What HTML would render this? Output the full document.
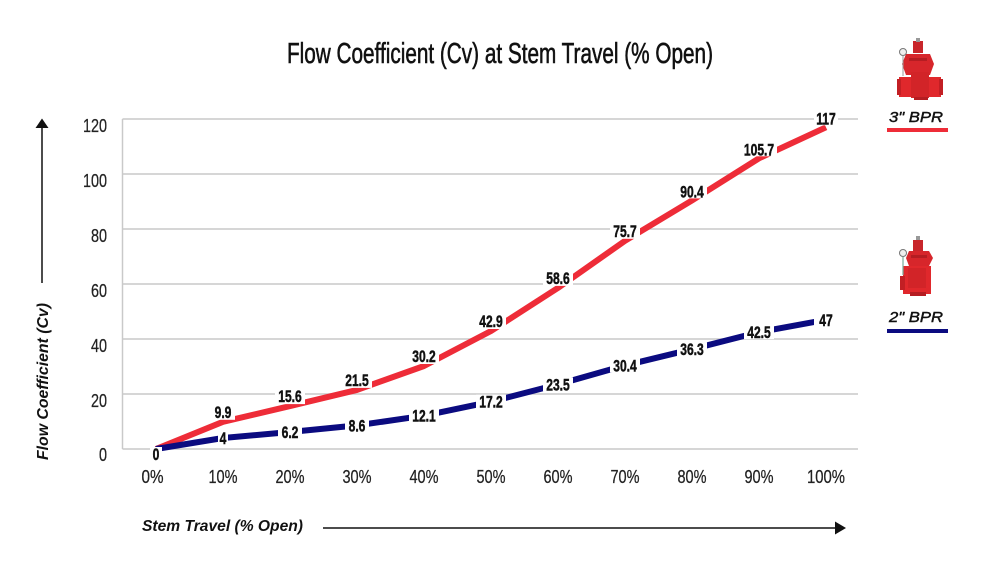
<!DOCTYPE html>
<html>
<head>
<meta charset="utf-8">
<style>
  html,body{margin:0;padding:0;background:#fff;}
  svg{display:block;}
  .ax{font-family:"Liberation Sans",sans-serif;font-size:18px;fill:#222;stroke:#222;stroke-width:0.25px;}
  .dl{font-family:"Liberation Sans",sans-serif;font-size:17px;font-weight:bold;fill:#111;stroke:#111;stroke-width:0.5px;}
  .it{font-family:"Liberation Sans",sans-serif;font-style:italic;font-weight:bold;fill:#111;}
  .lg{font-family:"Liberation Sans",sans-serif;font-style:italic;font-weight:normal;fill:#111;stroke:#111;stroke-width:0.45px;}
</style>
</head>
<body>
<svg width="1000" height="562" viewBox="0 0 1000 562" xmlns="http://www.w3.org/2000/svg">
  <rect width="1000" height="562" fill="#fff"/>

  <!-- Title -->
  <text x="287" y="63" font-family="Liberation Sans, sans-serif" font-size="29" fill="#111" stroke="#111" stroke-width="0.6" textLength="426" lengthAdjust="spacingAndGlyphs">Flow Coefficient (Cv) at Stem Travel (% Open)</text>

  <!-- gridlines -->
  <g stroke="#c9c9c9" stroke-width="1.5">
    <line x1="122.5" y1="119" x2="858" y2="119"/>
    <line x1="122.5" y1="174" x2="858" y2="174"/>
    <line x1="122.5" y1="229" x2="858" y2="229"/>
    <line x1="122.5" y1="284" x2="858" y2="284"/>
    <line x1="122.5" y1="339" x2="858" y2="339"/>
    <line x1="122.5" y1="394" x2="858" y2="394"/>
    <line x1="122.5" y1="449" x2="858" y2="449"/>
    <line x1="122.5" y1="119" x2="122.5" y2="449"/>
  </g>

  <!-- Y tick labels -->
  <g class="ax" text-anchor="end">
    <text x="107" y="132" textLength="24" lengthAdjust="spacingAndGlyphs">120</text>
    <text x="107" y="187" textLength="24" lengthAdjust="spacingAndGlyphs">100</text>
    <text x="107" y="242" textLength="16" lengthAdjust="spacingAndGlyphs">80</text>
    <text x="107" y="297" textLength="16" lengthAdjust="spacingAndGlyphs">60</text>
    <text x="107" y="352" textLength="16" lengthAdjust="spacingAndGlyphs">40</text>
    <text x="107" y="407" textLength="16" lengthAdjust="spacingAndGlyphs">20</text>
    <text x="107" y="461" textLength="8" lengthAdjust="spacingAndGlyphs">0</text>
  </g>

  <!-- X tick labels -->
  <g class="ax" font-size="17.5">
    <text x="141.5" y="483" textLength="22" lengthAdjust="spacingAndGlyphs">0%</text>
    <text x="208.5" y="483" textLength="29" lengthAdjust="spacingAndGlyphs">10%</text>
    <text x="275.5" y="483" textLength="29" lengthAdjust="spacingAndGlyphs">20%</text>
    <text x="342.5" y="483" textLength="29" lengthAdjust="spacingAndGlyphs">30%</text>
    <text x="409.5" y="483" textLength="29" lengthAdjust="spacingAndGlyphs">40%</text>
    <text x="476.5" y="483" textLength="29" lengthAdjust="spacingAndGlyphs">50%</text>
    <text x="543.5" y="483" textLength="29" lengthAdjust="spacingAndGlyphs">60%</text>
    <text x="610.5" y="483" textLength="29" lengthAdjust="spacingAndGlyphs">70%</text>
    <text x="677.5" y="483" textLength="29" lengthAdjust="spacingAndGlyphs">80%</text>
    <text x="744.5" y="483" textLength="29" lengthAdjust="spacingAndGlyphs">90%</text>
    <text x="807" y="483" textLength="38" lengthAdjust="spacingAndGlyphs">100%</text>
  </g>

  <!-- axis titles and arrows -->
  <text class="it" x="142" y="531" font-size="15.5" textLength="161" lengthAdjust="spacingAndGlyphs">Stem Travel (% Open)</text>
  <line x1="323" y1="528" x2="837" y2="528" stroke="#111" stroke-width="1.5"/>
  <polygon points="835,521.5 835,534.5 846,528" fill="#111"/>

  <text class="it" transform="translate(48,460) rotate(-90)" x="0" y="0" font-size="15.5" textLength="157" lengthAdjust="spacingAndGlyphs">Flow Coefficient (Cv)</text>
  <line x1="42" y1="126" x2="42" y2="283" stroke="#111" stroke-width="1.5"/>
  <polygon points="35.5,128 48.5,128 42,118.5" fill="#111"/>

  <!-- series lines -->
  <polyline fill="none" stroke="#ee2c38" stroke-width="6" stroke-linejoin="round"
    points="156,449 223,421.8 290,406.1 357,389.9 424,366 491,331 558,287.9 625,240.8 692,200.4 759,158.3 826,127.3"/>
  <polyline fill="none" stroke="#0b0b80" stroke-width="6" stroke-linejoin="round"
    points="156,449 223,438 290,432 357,425.4 424,415.7 491,401.7 558,384.4 625,365.4 692,349.2 759,332.1 826,319.8"/>

  <!-- data label backgrounds -->
  <g fill="#fff">
    <!-- red -->
    <rect x="211" y="405.8" width="24" height="14"/>
    <rect x="275" y="390.1" width="30" height="14"/>
    <rect x="342" y="373.9" width="30" height="14"/>
    <rect x="409" y="350" width="30" height="14"/>
    <rect x="476" y="315" width="30" height="14"/>
    <rect x="543" y="271.9" width="30" height="14"/>
    <rect x="610" y="224.8" width="30" height="14"/>
    <rect x="677" y="184.4" width="30" height="14"/>
    <rect x="741" y="142.3" width="36" height="14"/>
    <rect x="814" y="111.3" width="24" height="14"/>
    <!-- blue -->
    <rect x="218" y="431" width="10" height="14"/>
    <rect x="278" y="425" width="24" height="14"/>
    <rect x="345" y="418.4" width="24" height="14"/>
    <rect x="409" y="408.7" width="30" height="14"/>
    <rect x="476" y="394.7" width="30" height="14"/>
    <rect x="543" y="377.4" width="30" height="14"/>
    <rect x="610" y="358.4" width="30" height="14"/>
    <rect x="677" y="342.2" width="30" height="14"/>
    <rect x="744" y="325.1" width="30" height="14"/>
    <rect x="814" y="312.8" width="24" height="14"/>
    <!-- zero -->
    <rect x="150" y="447" width="12" height="14"/>
  </g>

  <!-- data labels -->
  <g class="dl" text-anchor="middle">
    <!-- red -->
    <text transform="translate(223,417.8) scale(0.71,1)">9.9</text>
    <text transform="translate(290,402.1) scale(0.71,1)">15.6</text>
    <text transform="translate(357,385.9) scale(0.71,1)">21.5</text>
    <text transform="translate(424,362) scale(0.71,1)">30.2</text>
    <text transform="translate(491,327) scale(0.71,1)">42.9</text>
    <text transform="translate(558,283.9) scale(0.71,1)">58.6</text>
    <text transform="translate(625,236.8) scale(0.71,1)">75.7</text>
    <text transform="translate(692,197.4) scale(0.71,1)">90.4</text>
    <text transform="translate(759,155.3) scale(0.71,1)">105.7</text>
    <text transform="translate(826,124.3) scale(0.71,1)">117</text>
    <!-- blue -->
    <text transform="translate(223,444) scale(0.71,1)">4</text>
    <text transform="translate(290,438) scale(0.71,1)">6.2</text>
    <text transform="translate(357,431.4) scale(0.71,1)">8.6</text>
    <text transform="translate(424,421.7) scale(0.71,1)">12.1</text>
    <text transform="translate(491,407.7) scale(0.71,1)">17.2</text>
    <text transform="translate(558,390.4) scale(0.71,1)">23.5</text>
    <text transform="translate(625,371.4) scale(0.71,1)">30.4</text>
    <text transform="translate(692,355.2) scale(0.71,1)">36.3</text>
    <text transform="translate(759,338.1) scale(0.71,1)">42.5</text>
    <text transform="translate(826,325.8) scale(0.71,1)">47</text>
    <!-- zero -->
    <text transform="translate(156,460) scale(0.71,1)">0</text>
  </g>

  <!-- Legend: 3" BPR valve -->
  <g>
    <rect x="913" y="41" width="10" height="12" fill="#c8262b"/>
    <rect x="916" y="38" width="4" height="4" fill="#999"/>
    <path d="M906,54 L930,54 L934,64 L930,75 L906,75 L902,64 Z" fill="#d7262b"/>
    <rect x="909" y="58" width="18" height="3" fill="#b51d22"/>
    <path d="M899,77 L941,77 L941,97 L899,97 Z" fill="#e0282c"/>
    <rect x="897" y="79" width="4" height="16" fill="#c21f24"/>
    <rect x="939" y="79" width="4" height="16" fill="#c21f24"/>
    <rect x="911" y="72" width="18" height="26" fill="#d22428"/>
    <rect x="914" y="97" width="14" height="3" fill="#b51d22"/>
    <circle cx="903" cy="52" r="3.5" fill="#eee" stroke="#777" stroke-width="1"/>
    <line x1="903" y1="56" x2="903" y2="76" stroke="#999" stroke-width="1"/>
  </g>
  <text class="lg" x="889" y="122" font-size="15" textLength="54" lengthAdjust="spacingAndGlyphs">3" BPR</text>
  <rect x="887" y="128" width="61" height="4" fill="#ee2c38"/>

  <!-- Legend: 2" BPR valve -->
  <g>
    <rect x="913" y="240" width="10" height="11" fill="#c8262b"/>
    <rect x="916" y="236" width="4" height="4" fill="#999"/>
    <path d="M909,251 L929,251 L933,258 L929,266 L909,266 L906,258 Z" fill="#d7262b"/>
    <rect x="911" y="255" width="16" height="3" fill="#b51d22"/>
    <path d="M903,266 L931,266 L931,294 L903,294 Z" fill="#e0282c"/>
    <rect x="900" y="276" width="5" height="14" fill="#c21f24"/>
    <rect x="908" y="268" width="18" height="20" fill="#d22428"/>
    <rect x="910" y="292" width="16" height="4" fill="#b51d22"/>
    <circle cx="903" cy="253" r="3.5" fill="#eee" stroke="#777" stroke-width="1"/>
    <line x1="903" y1="257" x2="903" y2="275" stroke="#7a9" stroke-width="1.2"/>
  </g>
  <text class="lg" x="889" y="322" font-size="15" textLength="54" lengthAdjust="spacingAndGlyphs">2" BPR</text>
  <rect x="887" y="329" width="61" height="4" fill="#0b0b80"/>
</svg>
</body>
</html>
